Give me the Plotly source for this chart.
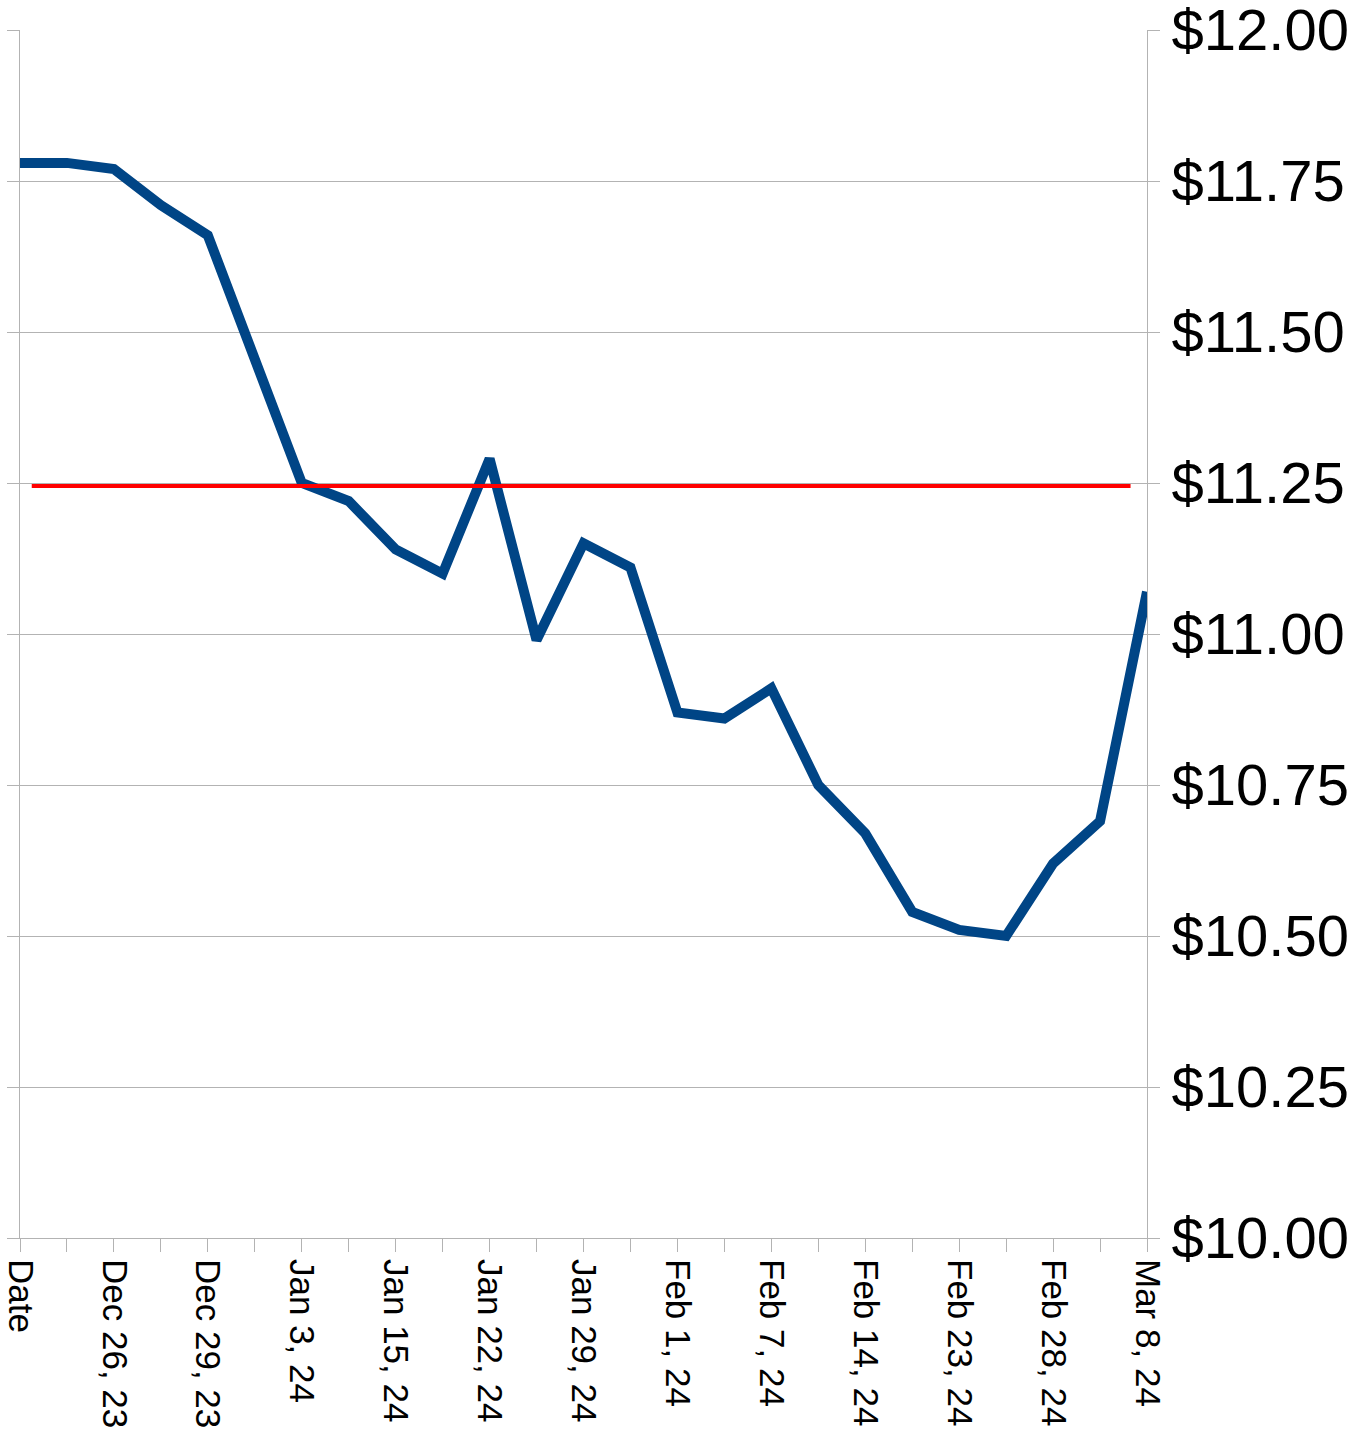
import plotly.graph_objects as go

# ---- data ----
dates = ["Date", "", "Dec 26, 23", "", "Dec 29, 23", "", "Jan 3, 24", "", "Jan 15, 24", "",
         "Jan 22, 24", "", "Jan 29, 24", "", "Feb 1, 24", "", "Feb 7, 24", "", "Feb 14, 24", "",
         "Feb 23, 24", "", "Feb 28, 24", "", "Mar 8, 24"]
prices = [11.78, 11.78, 11.77, 11.71, 11.66, 11.45, 11.25, 11.22, 11.14, 11.10,
          11.29, 10.99, 11.15, 11.11, 10.87, 10.86, 10.91, 10.75, 10.67, 10.54,
          10.51, 10.50, 10.62, 10.69, 11.07]
target_level = 11.245
target_span = [0.25, 23.65]
y_ticks = [10.00, 10.25, 10.50, 10.75, 11.00, 11.25, 11.50, 11.75, 12.00]
y_labels = ["$%.2f" % v for v in y_ticks]

idx = list(range(len(prices)))

fig = go.Figure()
fig.add_trace(go.Scatter(
    x=idx, y=prices, mode="lines",
    line=dict(color="#004586", width=10, shape="linear"),
    showlegend=False, hoverinfo="skip"))
fig.add_trace(go.Scatter(
    x=target_span, y=[target_level, target_level], mode="lines",
    line=dict(color="#ff0000", width=4),
    showlegend=False, hoverinfo="skip"))

grid = "#b3b3b3"
fig.update_layout(
    width=1366, height=1430,
    margin=dict(l=20, r=219, t=30, b=192),
    paper_bgcolor="white", plot_bgcolor="white",
    font=dict(family="Liberation Sans, Arial, sans-serif", color="black"),
    xaxis=dict(
        range=[0, len(prices) - 1], automargin=False,
        ticklabeloverflow="allow",
        tickmode="array", tickvals=idx, ticktext=dates,
        tickangle=90, tickfont=dict(size=35),
        showgrid=False, zeroline=False,
        showline=True, linecolor=grid, linewidth=1,
        ticks="outside", ticklen=13, tickcolor=grid, tickwidth=1,
    ),
    yaxis=dict(
        side="right", automargin=False,
        ticklabeloverflow="allow",
        range=[10, 12],
        tickmode="array", tickvals=y_ticks, ticktext=y_labels,
        tickfont=dict(size=58),
        showgrid=True, gridcolor=grid, gridwidth=1,
        zeroline=False,
        showline=True, linecolor=grid, linewidth=1, mirror="ticks",
        ticks="outside", ticklen=12, tickcolor=grid, tickwidth=1,
    ),
)

fig.write_html(
    "out.html",
    config={"displayModeBar": False},
    post_script="document.body.style.margin='0';document.body.style.overflow='hidden';",
)
